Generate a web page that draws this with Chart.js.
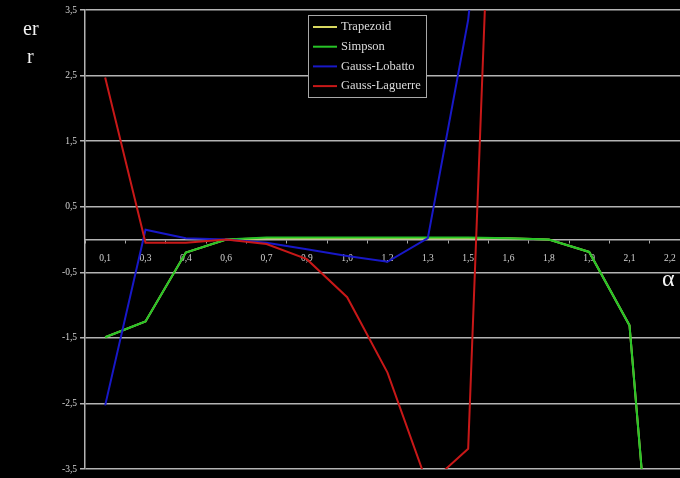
<!DOCTYPE html>
<html>
<head>
<meta charset="utf-8">
<script src="https://cdn.jsdelivr.net/npm/chart.js@4/dist/chart.umd.min.js"></script>
<style>
  html, body { margin: 0; padding: 0; background: #000; overflow: hidden; width: 680px; height: 478px; }
  #wrap { position: relative; width: 700px; height: 478px; }
  canvas { position: absolute; left: 0; top: 0; }
  .ttl { position: absolute; color: #f2f2f2; font-family: "Liberation Serif", "DejaVu Serif", serif; line-height: 1; }
</style>
</head>
<body>
<div id="wrap">
  <canvas id="c" width="700" height="478"></canvas>
  <div class="ttl" style="left:23px; top:18px; font-size:20px;">er</div>
  <div class="ttl" style="left:27px; top:46px; font-size:20px;">r</div>
  <div class="ttl" style="left:662px; top:266px; font-size:24px;">α</div>
</div>
<script>
// α values (step 0.15) with the rounded labels shown under the axis
const alphaLabels = ['0,1', '0,3', '0,4', '0,6', '0,7', '0,9', '1,0', '1,2', '1,3', '1,5', '1,6', '1,8', '1,9', '2,1', '2,2'];
const yTicks = [-3.5, -2.5, -1.5, -0.5, 0.5, 1.5, 2.5, 3.5];

// error of each quadrature rule
const trapezoid    = [-1.49, -1.25, -0.2, 0.0, 0.02, 0.02, 0.02, 0.02, 0.02, 0.02, 0.02, 0.0, -0.19, -1.31, -8.6];
const simpson      = [-1.49, -1.25, -0.2, 0.0, 0.03, 0.03, 0.03, 0.03, 0.03, 0.03, 0.02, 0.0, -0.19, -1.31, -8.6];
const gaussLobatto = [-2.53, 0.15, 0.02, 0.0, -0.05, -0.15, -0.25, -0.34, 0.02, 3.35, 9.0, null, null, null, null];
const gaussLaguerre = [2.47, -0.05, -0.05, 0.0, -0.07, -0.3, -0.88, -2.03, -3.75, -3.19, 13.0, null, null, null, null];

const serif = '"Liberation Serif", "DejaVu Serif", serif';
const fmt = v => String(v).replace('.', ',');

function series(label, data, color, order) {
  return {
    label, data,
    borderColor: color, backgroundColor: color,
    borderWidth: 2, pointRadius: 0, tension: 0,
    spanGaps: false, order
  };
}

// legend box drawn inside the plot, on top of the lines
const boxLegend = {
  id: 'boxLegend',
  afterDraw(chart) {
    const ctx = chart.ctx;
    const x = 308.5, y = 15.5, w = 118, h = 82;
    ctx.save();
    ctx.fillStyle = '#000';
    ctx.fillRect(x, y, w, h);
    ctx.strokeStyle = '#a8a8a8';
    ctx.lineWidth = 1;
    ctx.strokeRect(x, y, w, h);
    ctx.font = '12.5px ' + serif;
    ctx.textBaseline = 'middle';
    chart.data.datasets.forEach((ds, i) => {
      const ry = 27 + i * 19.7;
      ctx.strokeStyle = ds.borderColor;
      ctx.lineWidth = 2;
      ctx.beginPath();
      ctx.moveTo(313, ry);
      ctx.lineTo(337, ry);
      ctx.stroke();
      ctx.fillStyle = '#dcdcdc';
      ctx.fillText(ds.label, 341, ry);
    });
    ctx.restore();
  }
};

new Chart(document.getElementById('c'), {
  type: 'line',
  data: {
    labels: alphaLabels,
    datasets: [
      series('Trapezoid', trapezoid, '#d8d860', 4),
      series('Simpson', simpson, '#27c427', 3),
      series('Gauss-Lobatto', gaussLobatto, '#1818c8', 2),
      series('Gauss-Laguerre', gaussLaguerre, '#c81818', 1)
    ]
  },
  options: {
    responsive: false,
    animation: false,
    layout: { padding: { top: 10, bottom: 9, left: 0, right: 10 } },
    plugins: { legend: { display: false }, tooltip: { enabled: false } },
    scales: {
      x: {
        type: 'category',
        position: { y: 0 },
        offset: true,
        afterFit(s) { s.height = 0; },
        grid: {
          offset: true,
          drawOnChartArea: false,
          drawTicks: true,
          tickLength: 3,
          color: '#a8a8a8',
          lineWidth: 1
        },
        border: { display: true, color: '#b4b4b4', width: 1.5 },
        ticks: {
          color: '#d4d4d4',
          font: { family: serif, size: 9.5 },
          padding: 10,
          maxRotation: 0,
          autoSkip: false
        }
      },
      y: {
        type: 'linear',
        min: -3.5,
        max: 3.5,
        afterFit(s) { s.width = 85; },
        afterBuildTicks(s) { s.ticks = yTicks.map(v => ({ value: v })); },
        grid: {
          color: '#b4b4b4',
          lineWidth: 1.5,
          drawTicks: true,
          tickLength: 5
        },
        border: { display: true, color: '#b4b4b4', width: 1.5 },
        ticks: {
          color: '#d4d4d4',
          font: { family: serif, size: 9.5 },
          padding: 3,
          callback: v => fmt(v)
        }
      }
    }
  },
  plugins: [boxLegend]
});
</script>
</body>
</html>
